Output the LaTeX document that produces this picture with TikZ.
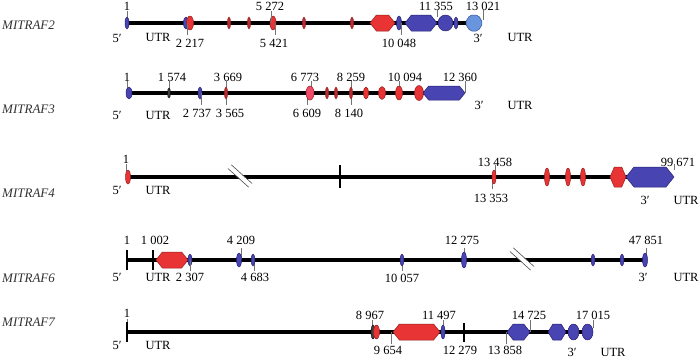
\documentclass[tikz,border=0pt]{standalone}
\usepackage{fontspec}
\setmainfont{Liberation Serif}
\definecolor{exred}{RGB}{232,52,52}
\definecolor{exredd}{RGB}{150,30,30}
\definecolor{exmark}{RGB}{185,45,50}
\definecolor{expink}{RGB}{240,75,105}
\definecolor{exblue}{RGB}{72,68,178}
\definecolor{exblued}{RGB}{38,34,115}
\definecolor{exlblue}{RGB}{105,148,222}
\definecolor{exlblued}{RGB}{50,80,150}
\tikzset{
  gline/.style={line width=3.2pt, black},
  tk/.style={draw=black!55, line width=0.8pt},
  btick/.style={draw=black, line width=1.4pt},
  num/.style={font=\fontsize{12.5}{13}\selectfont, inner sep=0pt},
  gname/.style={font=\itshape\fontsize{13}{14}\selectfont, text=black!80, inner sep=0pt, anchor=west},
  redf/.style={fill=exred, draw=exredd, line width=0.5pt, line join=round},
  pinkf/.style={fill=expink, draw=exredd, line width=0.5pt},
  markf/.style={fill=exmark, draw=exredd, line width=0.4pt},
  bluef/.style={fill=exblue, draw=exblued, line width=0.5pt, line join=round},
  lbluef/.style={fill=exlblue, draw=exlblued, line width=0.5pt, line join=round, rounded corners=2pt},
  darkf/.style={fill=black!75, draw=black, line width=0.4pt},
}
\newcommand\hexg[5]{\pgfmathsetmacro\hd{min(0.4*#5,0.27*(#3-#2))}\pgfmathsetmacro\hh{#5/2}%
  \filldraw[#1] (#2,#4) -- (#2+\hd,#4-\hh) -- (#3-\hd,#4-\hh) -- (#3,#4) -- (#3-\hd,#4+\hh) -- (#2+\hd,#4+\hh) -- cycle;}
\newcommand\mk[5]{\filldraw[#1] (#2,#3) ellipse ({#4pt} and {#5pt});}
\newcommand\brk[2]{%
  \fill[white, rotate around={-42:(#1,#2)}] ($(#1,#2)+(-13,-2.2)$) rectangle ($(#1,#2)+(13,2.2)$);
  \draw[black!70, line width=0.6pt, rotate around={-42:(#1,#2)}] ($(#1,#2)+(-14,-2.5)$) -- ($(#1,#2)+(14,-2.5)$);
  \draw[black!70, line width=0.6pt, rotate around={-42:(#1,#2)}] ($(#1,#2)+(-14,2.5)$) -- ($(#1,#2)+(14,2.5)$);}
\usetikzlibrary{calc}
\begin{document}
\begin{tikzpicture}[x=1pt,y=-1pt]
\useasboundingbox (0,0) rectangle (700,359);
\fill[white] (0,0) rectangle (700,359);

% ---------------- MITRAF2 ----------------
\node[gname] (g2) at (2,25) {MITRAF2};
\draw[gline] (127,23) -- (480,23);
\draw[tk] (127,11) -- (127,23);
\mk{bluef}{127}{23}{2}{6}
\mk{bluef}{186}{23}{2.5}{6}
\mk{redf}{190}{23}{3.5}{7}
\draw[tk] (187,23) -- (187,35);
\foreach \x in {229,249,304,352} {\mk{markf}{\x}{23}{1.6}{6}}
\mk{redf}{273}{23}{3}{7}
\draw[tk] (271,11) -- (271,23);
\draw[tk] (275,23) -- (275,35);
\hexg{redf}{370}{395}{23}{16}
\mk{bluef}{399}{23}{2.5}{7}
\draw[tk] (401,23) -- (401,35);
\hexg{bluef}{405}{437}{23}{16}
\mk{bluef}{445.5}{23}{7.5}{8}
\mk{bluef}{456}{23}{2}{6}
\hexg{lbluef}{465}{483}{23}{16}
\draw[tk] (437,10) -- (437,17);
\draw[tk] (483,10) -- (483,20);
\node[num] (n2a) at (127,6) {1};
\node[num] (n2b) at (270,6) {5 272};
\node[num] (n2c) at (436,6) {11 355};
\node[num] (n2d) at (483,6) {13 021};
\node[num] (n2e) at (117,38) {5′};
\node[num] (n2f) at (158,37) {UTR};
\node[num] (n2g) at (190,43) {2 217};
\node[num] (n2h) at (274,43) {5 421};
\node[num] (n2i) at (399,43) {10 048};
\node[num] (n2j) at (478,38) {3′};
\node[num] (n2k) at (520,37) {UTR};

% ---------------- MITRAF3 ----------------
\node[gname] (g3) at (2,109) {MITRAF3};
\draw[gline] (129,93) -- (462,93);
\draw[tk] (127,81) -- (127,93);
\mk{bluef}{129}{93}{3}{6}
\draw[tk] (169,81) -- (169,93);
\mk{darkf}{169}{93}{1.5}{5}
\mk{bluef}{200}{93}{2}{6}
\draw[tk] (201,93) -- (201,105);
\draw[tk] (226,81) -- (226,105);
\mk{markf}{226}{93}{1.6}{6}
\draw[tk] (311,81) -- (311,93);
\draw[tk] (307,93) -- (307,105);
\mk{pinkf}{310}{93}{4}{7}
\mk{markf}{327}{93}{1.6}{6}
\mk{markf}{336}{93}{1.6}{6}
\draw[tk] (351,81) -- (351,105);
\mk{markf}{351}{93}{1.6}{6}
\mk{redf}{366}{93}{2.5}{6}
\mk{redf}{382}{93}{3.5}{6.5}
\draw[tk] (399,81) -- (399,93);
\mk{redf}{399}{93}{3.5}{7}
\mk{redf}{419}{93}{4.5}{7.5}
\hexg{bluef}{423}{465}{93}{14}
\draw[tk] (465,81) -- (465,93);
\node[num] (n3a) at (127,77) {1};
\node[num] (n3b) at (172,77) {1 574};
\node[num] (n3c) at (228,77) {3 669};
\node[num] (n3d) at (305,77) {6 773};
\node[num] (n3e) at (351,77) {8 259};
\node[num] (n3f) at (405,77) {10 094};
\node[num] (n3g) at (460,77) {12 360};
\node[num] (n3h) at (117,115) {5′};
\node[num] (n3i) at (158,115) {UTR};
\node[num] (n3j) at (197,113) {2 737};
\node[num] (n3k) at (230,113) {3 565};
\node[num] (n3l) at (307,113) {6 609};
\node[num] (n3m) at (349,113) {8 140};
\node[num] (n3n) at (479,105) {3′};
\node[num] (n3o) at (520,105) {UTR};

% ---------------- MITRAF4 ----------------
\node[gname] (g4) at (2,193) {MITRAF4};
\draw[gline] (129,177) -- (670,177);
\draw[tk] (126,164) -- (126,171);
\mk{redf}{128}{177}{2.5}{7}
\brk{240}{176}
\draw[btick] (340,165) -- (340,188);
\draw[tk] (495,165) -- (495,177);
\draw[tk] (492,177) -- (492,189);
\mk{redf}{494}{177}{2}{7}
\foreach \x in {547,568,583} {\mk{redf}{\x}{177}{2.5}{9}}
\hexg{redf}{610}{626}{177}{20}
\hexg{bluef}{626}{674}{177}{20}
\draw[tk] (674,164) -- (674,170);
\node[num] (n4a) at (126,159) {1};
\node[num] (n4b) at (495,162) {13 458};
\node[num] (n4c) at (678,162) {99 671};
\node[num] (n4d) at (117,190) {5′};
\node[num] (n4e) at (158,190) {UTR};
\node[num] (n4f) at (491,198) {13 353};
\node[num] (n4g) at (645,200) {3′};
\node[num] (n4h) at (686,200) {UTR};

% ---------------- MITRAF6 ----------------
\node[gname] (g6) at (2,278) {MITRAF6};
\draw[gline] (127,260) -- (644,260);
\draw[btick] (127,250) -- (127,270);
\draw[btick] (153,250) -- (153,270);
\hexg{redf}{156}{188}{260}{16}
\mk{bluef}{190}{260}{2}{6}
\draw[tk] (190,260) -- (190,271);
\draw[tk] (241,248) -- (241,260);
\mk{bluef}{239}{260}{2.5}{7}
\draw[tk] (254,260) -- (254,271);
\mk{bluef}{253}{260}{1.8}{6}
\draw[tk] (402,260) -- (402,271);
\mk{bluef}{402}{260}{1.8}{6}
\draw[tk] (464,248) -- (464,260);
\mk{bluef}{464}{260}{2.5}{8}
\brk{522}{259}
\mk{bluef}{593}{260}{1.8}{6}
\mk{bluef}{622}{260}{1.8}{6}
\draw[tk] (646,248) -- (646,260);
\mk{bluef}{645}{260}{2.5}{7}
\node[num] (n6a) at (127,240) {1};
\node[num] (n6b) at (155,240) {1 002};
\node[num] (n6c) at (241,240) {4 209};
\node[num] (n6d) at (462,240) {12 275};
\node[num] (n6e) at (646,240) {47 851};
\node[num] (n6f) at (117,277) {5′};
\node[num] (n6g) at (158,277) {UTR};
\node[num] (n6h) at (190,277) {2 307};
\node[num] (n6i) at (255,277) {4 683};
\node[num] (n6j) at (402,278) {10 057};
\node[num] (n6k) at (643,277) {3′};
\node[num] (n6l) at (686,277) {UTR};

% ---------------- MITRAF7 ----------------
\node[gname] (g7) at (2,322) {MITRAF7};
\draw[gline] (127,332) -- (591,332);
\draw[tk] (127,319) -- (127,324);
\draw[btick] (127,322) -- (127,342);
\draw[tk] (372,320) -- (372,332);
\mk{darkf}{373}{332}{2}{7}
\mk{redf}{376.5}{332}{3}{7}
\draw[tk] (391,332) -- (391,344);
\hexg{redf}{393}{440}{332}{16}
\draw[tk] (443,320) -- (443,332);
\mk{bluef}{443}{332}{2}{7}
\draw[btick] (464,323) -- (464,342);
\draw[tk] (506,332) -- (506,344);
\hexg{bluef}{507}{530}{332}{16}
\draw[tk] (530,320) -- (530,332);
\hexg{bluef}{548}{566}{332}{16}
\mk{bluef}{573.5}{332}{5.5}{8}
\mk{bluef}{587.5}{332}{5.5}{8}
\draw[tk] (593,320) -- (593,328);
\node[num] (n7a) at (127,313) {1};
\node[num] (n7b) at (370,315) {8 967};
\node[num] (n7c) at (439,315) {11 497};
\node[num] (n7d) at (529,315) {14 725};
\node[num] (n7e) at (593,315) {17 015};
\node[num] (n7f) at (117,345) {5′};
\node[num] (n7g) at (158,345) {UTR};
\node[num] (n7h) at (388,350) {9 654};
\node[num] (n7i) at (460,350) {12 279};
\node[num] (n7j) at (505,350) {13 858};
\node[num] (n7k) at (572,352) {3′};
\node[num] (n7l) at (613,352) {UTR};
\end{tikzpicture}
\end{document}
